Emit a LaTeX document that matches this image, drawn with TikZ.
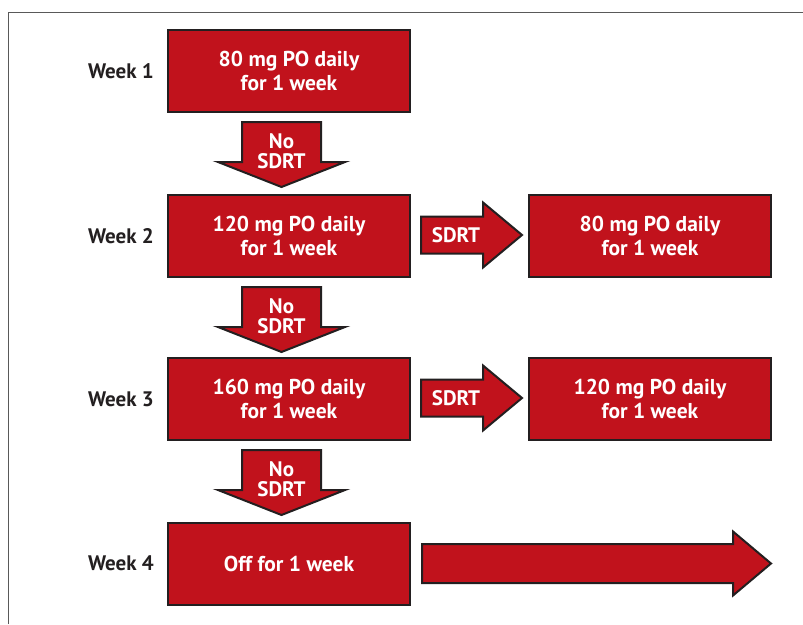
\documentclass[tikz,border=0pt]{standalone}
\usepackage{fontspec}
\setmainfont{PT Sans}
\usetikzlibrary{positioning}

\definecolor{boxred}{RGB}{193,18,28}
\definecolor{edgedark}{RGB}{35,31,32}

\tikzset{
    box/.style={draw=edgedark, fill=boxred, line width=2pt, minimum width=242pt, minimum height=82pt,
        text=white, font=\bfseries\fontsize{21.5}{24}\selectfont, align=center, inner sep=0pt},
    week/.style={font=\bfseries\fontsize{21}{24}\selectfont, text=edgedark, inner sep=0pt},
    arrtext/.style={font=\bfseries\fontsize{21}{20.5}\selectfont, text=white, align=center, inner sep=0pt},
    arr/.style={draw=edgedark, fill=boxred, line width=2pt, line join=miter},
    downarr/.pic={\path[arr] (-39.5,0) -- (39.5,0) -- (39.5,40) -- (63.5,40) -- (0,65) -- (-63.5,40) -- (-39.5,40) -- cycle;},
    rightarr/.pic={\path[arr] (0,-18.5) -- (62,-18.5) -- (62,-32.5) -- (101,0) -- (62,32.5) -- (62,18.5) -- (0,18.5) -- cycle;}
}

\begin{document}
\begin{tikzpicture}[x=1pt, y=-1pt]
    \useasboundingbox (0,0) rectangle (803,624);
    % frame
    \draw[gray!70!black, line width=1.3pt] (8.5,624) -- (8.5,12.5) -- (803,12.5);

    % left column
    \node[box] (w1) at (289,71) {80 mg PO daily\\for 1 week};
    \node[box] (w2) at (289,236) {120 mg PO daily\\for 1 week};
    \node[box] (w3) at (289,399) {160 mg PO daily\\for 1 week};
    \node[box] (w4) at (289,563.5) {Off for 1 week};

    \node[week, left=13pt of w1] (l1) {Week 1};
    \node[week, left=13pt of w2] (l2) {Week 2};
    \node[week, left=13pt of w3] (l3) {Week 3};
    \node[week, left=13pt of w4] (l4) {Week 4};

    % right column
    \node[box] (s2) at (650,236) {80 mg PO daily\\for 1 week};
    \node[box] (s3) at (650,399) {120 mg PO daily\\for 1 week};

    % arrows
    \pic at (281.5,122) {downarr};
    \pic at (281.5,287) {downarr};
    \pic at (281.5,450) {downarr};
    \node[arrtext] (d1) at (281.5,151) {No\\SDRT};
    \node[arrtext] (d2) at (281.5,316) {No\\SDRT};
    \node[arrtext] (d3) at (281.5,479) {No\\SDRT};

    \pic at (421,235) {rightarr};
    \pic at (421,398) {rightarr};
    \node[arrtext] (r2) at (456,235) {SDRT};
    \node[arrtext] (r3) at (456,398) {SDRT};

    \path[arr] (422,544) -- (733,544) -- (733,531.5) -- (771,563.5) -- (733,595.5) -- (733,583) -- (422,583) -- cycle;
\end{tikzpicture}
\end{document}
